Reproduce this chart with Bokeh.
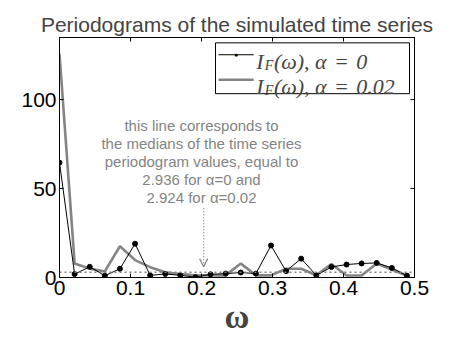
from bokeh.plotting import figure
from bokeh.models import (Range1d, LinearAxis, FixedTicker, Label, Arrow, OpenHead,
                          BoxAnnotation, Span)
from bokeh.embed import file_html
from bokeh.resources import INLINE

# ---- data ----
omega = [0.0, 0.0213, 0.0426, 0.0638, 0.0851, 0.1064, 0.1277, 0.1489, 0.1702, 0.1915,
         0.2128, 0.2340, 0.2553, 0.2766, 0.2979, 0.3191, 0.3404, 0.3617, 0.3830, 0.4043,
         0.4255, 0.4468, 0.4681, 0.4894]
I_alpha0 = [64.6, 1.9, 6.0, 1.0, 4.9, 19.0, 1.2, 2.0, 1.2, 0.2,
            1.8, 2.2, 2.8, 2.2, 18.0, 3.6, 10.6, 1.2, 5.9, 7.3,
            7.9, 8.2, 5.4, 1.0]
I_alpha002 = [126.0, 7.9, 5.0, 3.4, 17.6, 9.8, 5.8, 2.9, 2.0, 1.3,
              1.2, 1.2, 7.9, 1.2, 1.2, 4.9, 4.9, 1.3, 7.6, 1.1,
              1.1, 7.9, 4.5, 1.0]
median_value = 2.93
x_ticks = [0, 0.1, 0.2, 0.3, 0.4, 0.5]
x_tick_labels = ["0", "0.1", "0.2", "0.3", "0.4", "0.5"]
y_ticks = [0, 50, 100]
y_tick_labels = ["0", "50", "100"]
title_text = "Periodograms of the simulated time series"
note_lines = ["this line corresponds to",
              "the medians of the time series",
              "periodogram values, equal to",
              "2.936 for \u03b1=0 and",
              "2.924 for \u03b1=0.02"]
legend_tail = ["(\u03c9), \u03b1\u2004=\u20040", "(\u03c9), \u03b1\u2004=\u20040.02"]

GRAY = "#848484"
SANS = "Liberation Sans"
SERIF = "Liberation Serif"

p = figure(width=449, height=338, x_range=Range1d(0, 0.5), y_range=Range1d(0, 135),
           output_backend="svg", toolbar_location=None,
           min_border_left=59, min_border_right=35, min_border_top=37, min_border_bottom=61)
p.grid.visible = False
p.outline_line_color = "black"
p.outline_line_width = 1
p.background_fill_color = "white"
p.border_fill_color = "white"

p.title.text = title_text
p.title.align = "center"
p.title.vertical_align = "top"
p.title.text_font = SANS
p.title.text_font_size = "21px"
p.title.text_font_style = "normal"
p.title.standoff = 0
p.title.offset = -6

def style_axis(ax, ticks, labels, show_labels=True):
    ax.ticker = FixedTicker(ticks=ticks)
    ax.major_label_overrides = {t: l for t, l in zip(ticks, labels)}
    ax.major_tick_in = 4
    ax.major_tick_out = 0
    ax.minor_tick_line_color = None
    ax.axis_line_color = "black"
    ax.major_tick_line_color = "black"
    ax.major_label_text_font = SANS
    ax.major_label_text_color = "black"
    if show_labels:
        ax.major_label_text_font_size = "21px"
        ax.major_label_standoff = 3
    else:
        ax.major_label_text_font_size = "0px"
        ax.major_label_standoff = 0
        ax.major_label_text_alpha = 0
        ax.axis_label_standoff = 0

style_axis(p.xaxis[0], x_ticks, x_tick_labels)
style_axis(p.yaxis[0], y_ticks, y_tick_labels)
p.xaxis[0].axis_label = "\u03c9"
p.xaxis[0].axis_label_text_font = SERIF
p.xaxis[0].axis_label_text_font_size = "34px"
p.xaxis[0].axis_label_text_font_style = "bold"
p.xaxis[0].axis_label_standoff = 0

top_ax = LinearAxis()
style_axis(top_ax, x_ticks, x_tick_labels, show_labels=False)
top_ax.major_label_text_font_size = "6px"
top_ax.major_label_text_alpha = 0
p.add_layout(top_ax, "above")
right_ax = LinearAxis()
style_axis(right_ax, y_ticks, y_tick_labels, show_labels=False)
p.add_layout(right_ax, "right")

# median dotted line
p.add_layout(Span(location=median_value, dimension="width", line_color=GRAY,
                  line_dash="2 3", line_width=1.5))

# series
p.line(omega, I_alpha002, line_color=GRAY, line_width=2.6)
p.line(omega, I_alpha0, line_color="black", line_width=1)
p.scatter(omega, I_alpha0, size=5, color="black")

# annotation text + arrow
note_y = [85.4, 75.3, 65.2, 55.2, 45.0]
for t, yy in zip(note_lines, note_y):
    p.add_layout(Label(x=0.2, y=yy, text=t, text_align="center", text_baseline="middle",
                       text_font=SANS, text_font_size="15px", text_color=GRAY))
p.add_layout(Arrow(x_start=0.203, y_start=39, x_end=0.203, y_end=6,
                   line_color=GRAY, line_width=1.3, line_dash="1 2",
                   end=OpenHead(size=8, line_color=GRAY, line_width=1.3)))

# legend (drawn by hand to allow subscripts)
p.add_layout(BoxAnnotation(left=0.2197, right=0.493, top=132, bottom=103.4,
                           fill_color="white", fill_alpha=1, line_color="black",
                           line_width=1, line_alpha=1))
rows_y = [125.3, 111.2]
row_colors = ["black", GRAY]
row_widths = [1, 2.6]
for i, (ry, col, lw) in enumerate(zip(rows_y, row_colors, row_widths)):
    p.add_layout(Arrow(x_start=0.2240, y_start=ry, x_end=0.2735, y_end=ry,
                       line_color=col, line_width=lw, end=None))
    base = ry - 3.6
    p.add_layout(Label(x=0.2770, y=base, text="I", text_font=SERIF, text_font_size="22px",
                       text_font_style="italic", text_baseline="alphabetic"))
    p.add_layout(Label(x=0.2890, y=base - 2.6, text="F", text_font=SERIF, text_font_size="14px",
                       text_font_style="italic", text_baseline="alphabetic"))
    p.add_layout(Label(x=0.3020, y=base, text=legend_tail[i], text_font=SERIF,
                       text_font_size="22px", text_font_style="italic",
                       text_baseline="alphabetic"))
p.add_layout(Label(x=0.2487, y=rows_y[0], text="\u25cf", text_align="center",
                   text_baseline="middle", text_font_size="7px", text_color="black"))

open("out.html", "w").write(file_html(p, INLINE))
